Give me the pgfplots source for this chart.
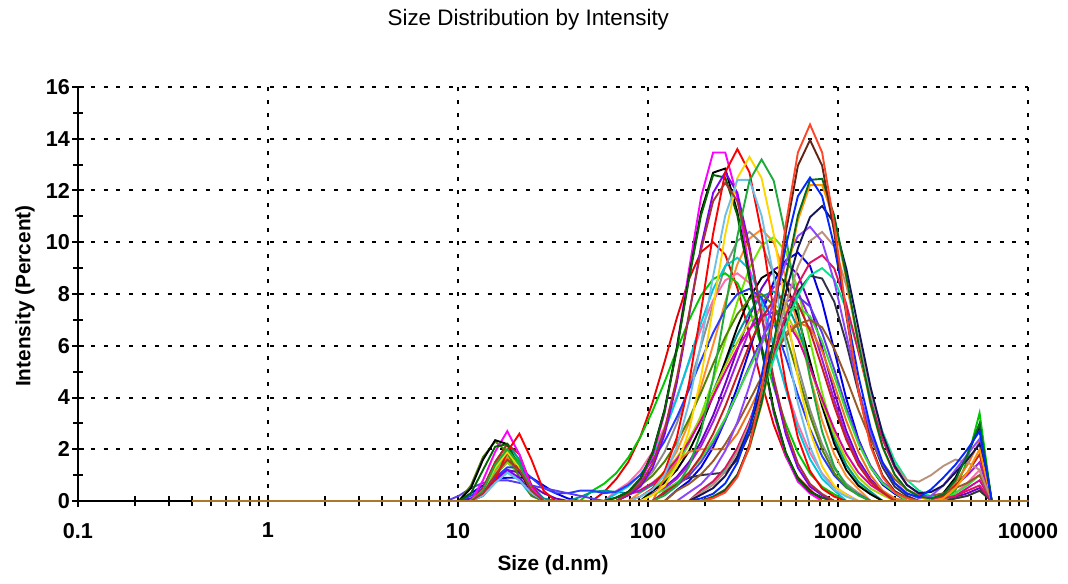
\documentclass[border=0pt]{standalone}
\usepackage{pgfplots}
\pgfplotsset{compat=1.18}
\usepackage{fontspec}
\setmainfont{Liberation Sans}

% line colours of the individual measurement records
\definecolor{cMag}{RGB}{255,0,255}
\definecolor{cBlk}{RGB}{0,0,0}
\definecolor{cDkG}{RGB}{0,100,0}
\definecolor{cPur}{RGB}{128,0,255}
\definecolor{cRed}{RGB}{255,0,0}
\definecolor{cYel}{RGB}{255,215,0}
\definecolor{cLBl}{RGB}{110,190,230}
\definecolor{cGrn}{RGB}{30,170,60}
\definecolor{cBrn}{RGB}{170,50,50}
\definecolor{cROr}{RGB}{255,70,40}
\definecolor{cDBr}{RGB}{100,35,20}
\definecolor{cBlu}{RGB}{0,40,255}
\definecolor{cDGb}{RGB}{0,110,30}
\definecolor{cOra}{RGB}{255,150,0}
\definecolor{cNav}{RGB}{20,20,90}
\definecolor{cPub}{RGB}{140,70,255}
\definecolor{cTan}{RGB}{185,145,125}
\definecolor{cCri}{RGB}{220,20,100}
\definecolor{cSpG}{RGB}{0,230,140}
\definecolor{cReb}{RGB}{230,0,0}
\definecolor{cOrb}{RGB}{255,140,40}
\definecolor{cGra}{RGB}{140,140,140}
\definecolor{cLim}{RGB}{110,230,0}
\definecolor{cBlb}{RGB}{0,0,230}
\definecolor{cPuc}{RGB}{110,0,200}
\definecolor{cGrb}{RGB}{0,200,0}
\definecolor{cPnk}{RGB}{255,110,170}
\definecolor{cTea}{RGB}{0,150,150}
\definecolor{cVio}{RGB}{160,30,220}
\definecolor{cCya}{RGB}{0,200,220}
\definecolor{cYG}{RGB}{170,210,0}
\definecolor{cMP}{RGB}{220,0,160}
\definecolor{cBlc}{RGB}{40,60,255}
\definecolor{cOrc}{RGB}{235,115,30}
\definecolor{cSla}{RGB}{50,50,70}
\definecolor{cBV}{RGB}{90,60,240}
\definecolor{cGrc}{RGB}{60,220,60}
\definecolor{cRec}{RGB}{200,30,30}
\definecolor{cOli}{RGB}{80,130,0}
\definecolor{cBrb}{RGB}{150,90,40}
\definecolor{cBase}{RGB}{170,120,40}

\begin{document}
\begin{tikzpicture}
\begin{axis}[
  name=ax,
  width=475pt, height=207pt, scale only axis,
  xmode=log,
  xmin=0.1, xmax=10000, ymin=0, ymax=16,
  axis lines*=left,
  axis line style={-, line width=1.2pt, black},
  xtick={0.1,1,10,100,1000,10000},
  xticklabels={0.1,1,10,100,1000,10000},
  minor xtick={0.2,0.3,0.4,0.5,0.6,0.7,0.8,0.9,2,3,4,5,6,7,8,9,20,30,40,50,60,70,80,90,200,300,400,500,600,700,800,900,2000,3000,4000,5000,6000,7000,8000,9000},
  ytick={0,2,...,16},
  minor ytick={1,3,...,15},
  tick align=center,
  major tick length=6pt, minor tick length=5pt,
  every tick/.style={black, line width=1pt},
  grid=major,
  major grid style={black, line width=1pt, dash pattern=on 2pt off 4.4pt},
  ticklabel style={font=\fontsize{10.8}{12}\selectfont\bfseries},
  xticklabel style={yshift=-4.5pt},
  yticklabel style={xshift=2.5pt},
  /pgf/number format/assume math mode=true,
  title={Size Distribution by Intensity},
  title style={font=\fontsize{11.2}{13}\selectfont, at={(axis description cs:0.474,1.1328)}, anchor=center},
  xlabel={Size (d.nm)},
  xlabel style={font=\fontsize{10.4}{12}\selectfont\bfseries, at={(axis description cs:0.5,-0.1546)}, anchor=center},
  ylabel={Intensity (Percent)},
  ylabel style={font=\fontsize{10.4}{12}\selectfont\bfseries, at={(axis description cs:-0.0558,0.495)}, anchor=center},
  clip=false,
  every axis plot/.append style={line width=0.95pt, no markers},
]
% ---- broad, lower records ----
\addplot[cReb] coordinates {(0.4,0)(11.70,0)(13.54,0.3)(15.69,1.0)(18.17,1.5)(21.04,1.1)(24.36,0.3)(28.21,0)(50.75,0)(58.77,0.35)(68.06,0.85)(78.82,1.51)(91.28,2.49)(105.7,3.81)(122.4,5.39)(141.8,7.07)(164.2,8.57)(190.1,9.62)(220.2,10.0)(255.0,9.52)(295.3,8.23)(342.0,6.44)(396.1,4.58)(458.7,2.95)(531.2,1.72)(615.1,0.91)(712.4,0.44)(825.0,0)(10000,0)};
\addplot[cOrb] coordinates {(0.4,0)(11.70,0)(13.54,0.3)(15.69,1.1)(18.17,1.7)(21.04,1.2)(24.36,0.4)(28.21,0)(78.82,0)(91.28,0.33)(105.7,0.64)(122.4,1.14)(141.8,1.92)(164.2,3.02)(190.1,4.42)(220.2,6.04)(255.0,7.69)(295.3,9.15)(342.0,10.14)(396.1,10.5)(458.7,10.0)(531.2,8.64)(615.1,6.76)(712.4,4.81)(825.0,3.10)(955.4,1.81)(1106,0.96)(1281,0.46)(1484,0)(10000,0)};
\addplot[cGra] coordinates {(0.4,0)(68.06,0)(78.82,0.32)(91.28,0.63)(105.7,1.13)(122.4,1.90)(141.8,3.00)(164.2,4.38)(190.1,5.98)(220.2,7.61)(255.0,9.06)(295.3,10.05)(342.0,10.4)(396.1,9.96)(458.7,8.75)(531.2,7.05)(615.1,5.21)(712.4,3.53)(825.0,2.19)(955.4,1.25)(1106,0.66)(1281,0.31)(1484,0)(10000,0)};
\addplot[cLim] coordinates {(0.4,0)(11.70,0)(13.54,0.3)(15.69,1.0)(18.17,1.5)(21.04,1.0)(24.36,0.3)(28.21,0)(91.28,0)(105.7,0.45)(122.4,0.82)(141.8,1.38)(164.2,2.20)(190.1,3.32)(220.2,4.67)(255.0,6.19)(295.3,7.70)(342.0,9.0)(396.1,9.88)(458.7,10.2)(531.2,9.65)(615.1,8.17)(712.4,6.19)(825.0,4.19)(955.4,2.54)(1106,1.38)(1281,0.67)(1484,0.30)(1718,0)(10000,0)};
\addplot[cBlb] coordinates {(0.4,0)(10.10,0)(11.70,0.3)(13.54,0.6)(15.69,0.85)(18.17,0.9)(21.04,0.9)(24.36,0.9)(28.21,0.6)(32.67,0.3)(37.84,0.1)(43.82,0)(122.4,0)(141.8,0.42)(164.2,0.77)(190.1,1.30)(220.2,2.07)(255.0,3.12)(295.3,4.40)(342.0,5.83)(396.1,7.25)(458.7,8.47)(531.2,9.30)(615.1,9.6)(712.4,9.08)(825.0,7.69)(955.4,5.83)(1106,3.95)(1281,2.39)(1484,1.30)(1718,0.63)(1990,0.28)(2305,0)(10000,0)};
\addplot[cPuc] coordinates {(0.4,0)(10.10,0)(11.70,0.1)(13.54,0.4)(15.69,0.9)(18.17,1.2)(21.04,1.1)(24.36,0.6)(28.21,0.3)(32.67,0.1)(37.84,0)(91.28,0)(105.7,0.29)(122.4,0.54)(141.8,0.93)(164.2,1.50)(190.1,2.29)(220.2,3.31)(255.0,4.53)(295.3,5.84)(342.0,7.13)(396.1,8.22)(458.7,8.94)(531.2,9.2)(615.1,8.76)(712.4,7.57)(825.0,5.92)(955.4,4.21)(1106,2.71)(1281,1.58)(1484,0.84)(1718,0.40)(1990,0)(3580,0)(4145,0.15)(4801,0.3)(5560,0.5)(6439,0)(10000,0)};
\addplot[cGrb] coordinates {(0.4,0)(11.70,0)(13.54,0.4)(15.69,1.4)(18.17,2.0)(21.04,1.5)(24.36,0.5)(28.21,0)(43.82,0)(50.75,0.39)(58.77,0.67)(68.06,1.08)(78.82,1.68)(91.28,2.48)(105.7,3.48)(122.4,4.61)(141.8,5.83)(164.2,6.98)(190.1,7.94)(220.2,8.58)(255.0,8.8)(295.3,8.43)(342.0,7.40)(396.1,5.97)(458.7,4.41)(531.2,2.98)(615.1,1.86)(712.4,1.06)(825.0,0.55)(955.4,0.26)(1106,0)(3580,0)(4145,0.4)(4801,1.6)(5560,3.4)(6439,0)(10000,0)};
\addplot[cPnk] coordinates {(0.4,0)(58.77,0)(68.06,0.39)(78.82,0.70)(91.28,1.19)(105.7,1.90)(122.4,2.86)(141.8,4.03)(164.2,5.34)(190.1,6.64)(220.2,7.76)(255.0,8.53)(295.3,8.8)(342.0,8.43)(396.1,7.40)(458.7,5.97)(531.2,4.41)(615.1,2.98)(712.4,1.86)(825.0,1.06)(955.4,0.55)(1106,0.26)(1281,0)(3580,0)(4145,0.3)(4801,0.7)(5560,1.2)(6439,0)(10000,0)};
\addplot[cTea] coordinates {(0.4,0)(11.70,0)(13.54,0.5)(15.69,1.5)(18.17,2.2)(21.04,1.6)(24.36,0.6)(28.21,0.1)(32.67,0)(37.84,0)(43.82,0.15)(50.75,0.35)(58.77,0.4)(68.06,0.35)(78.82,0.3)(91.28,0.36)(105.7,0.62)(122.4,1.00)(141.8,1.55)(164.2,2.28)(190.1,3.20)(220.2,4.24)(255.0,5.36)(295.3,6.42)(342.0,7.31)(396.1,7.90)(458.7,8.1)(531.2,7.71)(615.1,6.67)(712.4,5.22)(825.0,3.71)(955.4,2.39)(1106,1.39)(1281,0.74)(1484,0.36)(1718,0)(10000,0)};
\addplot[cVio] coordinates {(0.4,0)(91.28,0)(105.7,0.27)(122.4,0.50)(141.8,0.86)(164.2,1.39)(190.1,2.12)(220.2,3.06)(255.0,4.18)(295.3,5.40)(342.0,6.59)(396.1,7.59)(458.7,8.26)(531.2,8.5)(615.1,8.09)(712.4,7.0)(825.0,5.47)(955.4,3.89)(1106,2.51)(1281,1.46)(1484,0.77)(1718,0.37)(1990,0)(3091,0)(3580,0.2)(4145,0.6)(4801,1.0)(5560,1.5)(6439,0)(10000,0)};
\addplot[cBlk] coordinates {(0.4,0)(91.28,0)(105.7,0.39)(122.4,0.71)(141.8,1.20)(164.2,1.92)(190.1,2.89)(220.2,4.08)(255.0,5.40)(295.3,6.72)(342.0,7.85)(396.1,8.62)(458.7,8.9)(531.2,8.42)(615.1,7.13)(712.4,5.40)(825.0,3.66)(955.4,2.22)(1106,1.20)(1281,0.59)(1484,0.26)(1718,0)(3091,0)(3580,0.3)(4145,0.9)(4801,1.8)(5560,2.9)(6439,0)(10000,0)};
\addplot[cYG] coordinates {(0.4,0)(11.70,0)(13.54,0.4)(15.69,1.3)(18.17,1.9)(21.04,1.3)(24.36,0.4)(28.21,0)(68.06,0)(78.82,0.25)(91.28,0.43)(105.7,0.71)(122.4,1.12)(141.8,1.67)(164.2,2.39)(190.1,3.25)(220.2,4.21)(255.0,5.21)(295.3,6.14)(342.0,6.92)(396.1,7.43)(458.7,7.6)(531.2,7.28)(615.1,6.39)(712.4,5.15)(825.0,3.81)(955.4,2.58)(1106,1.60)(1281,0.91)(1484,0.48)(1718,0.23)(1990,0)(3580,0)(4145,0.1)(4801,0.2)(5560,0.4)(6439,0)(10000,0)};
\addplot[cCya] coordinates {(0.4,0)(11.70,0)(13.54,0.2)(15.69,0.7)(18.17,1.1)(21.04,0.8)(24.36,0.2)(28.21,0)(58.77,0)(68.06,0.29)(78.82,0.57)(91.28,1.02)(105.7,1.72)(122.4,2.71)(141.8,3.96)(164.2,5.41)(190.1,6.88)(220.2,8.19)(255.0,9.08)(295.3,9.4)(342.0,8.95)(396.1,7.74)(458.7,6.05)(531.2,4.31)(615.1,2.77)(712.4,1.62)(825.0,0.86)(955.4,0.41)(1106,0)(10000,0)};
\addplot[cMP] coordinates {(0.4,0)(68.06,0)(78.82,0.24)(91.28,0.42)(105.7,0.69)(122.4,1.07)(141.8,1.61)(164.2,2.29)(190.1,3.12)(220.2,4.04)(255.0,5.0)(295.3,5.90)(342.0,6.64)(396.1,7.13)(458.7,7.3)(531.2,7.02)(615.1,6.26)(712.4,5.16)(825.0,3.93)(955.4,2.78)(1106,1.82)(1281,1.10)(1484,0.62)(1718,0.32)(1990,0)(3580,0)(4145,0.2)(4801,0.5)(5560,0.8)(6439,0)(10000,0)};
\addplot[cBlc] coordinates {(0.4,0)(10.10,0)(11.70,0.2)(13.54,0.5)(15.69,0.9)(18.17,1.3)(21.04,1.3)(24.36,0.9)(28.21,0.5)(32.67,0.3)(37.84,0.3)(43.82,0.4)(50.75,0.4)(58.77,0.3)(68.06,0.36)(78.82,0.62)(91.28,1.01)(105.7,1.57)(122.4,2.31)(141.8,3.24)(164.2,4.30)(190.1,5.43)(220.2,6.50)(255.0,7.40)(295.3,8.0)(342.0,8.2)(396.1,7.86)(458.7,6.90)(531.2,5.56)(615.1,4.11)(712.4,2.78)(825.0,1.73)(955.4,0.98)(1106,0.52)(1281,0.25)(1484,0)(10000,0)};
\addplot[cOrc] coordinates {(0.4,0)(105.7,0)(122.4,0.9)(141.8,1.5)(164.2,1.9)(190.1,2.0)(220.2,2.0)(255.0,2.0)(295.3,2.6)(342.0,3.5)(396.1,4.5)(458.7,5.6)(531.2,6.5)(615.1,6.9)(712.4,6.7)(825.0,5.8)(955.4,4.5)(1106,3.1)(1281,1.9)(1484,1.0)(1718,0.4)(1990,0.1)(2305,0)(3091,0)(3580,0.2)(4145,0.7)(4801,1.4)(5560,2.3)(6439,0)(10000,0)};
\addplot[cSla] coordinates {(0.4,0)(105.7,0)(122.4,0.3)(141.8,0.7)(164.2,0.9)(190.1,1.0)(220.2,1.05)(255.0,1.1)(295.3,1.6)(342.0,2.6)(396.1,4.0)(458.7,5.6)(531.2,7.0)(615.1,8.1)(712.4,8.7)(825.0,8.6)(955.4,7.7)(1106,6.1)(1281,4.2)(1484,2.5)(1718,1.3)(1990,0.55)(2305,0.2)(2669,0)(3580,0)(4145,0.1)(4801,0.2)(5560,0.4)(6439,0)(10000,0)};
\addplot[cBV] coordinates {(0.4,0)(8.721,0)(10.10,0.2)(11.70,0.5)(13.54,0.7)(15.69,0.8)(18.17,0.8)(21.04,0.7)(24.36,0.6)(28.21,0.5)(32.67,0.4)(37.84,0.3)(43.82,0.2)(50.75,0.1)(58.77,0)(105.7,0)(122.4,0.35)(141.8,0.60)(164.2,0.97)(190.1,1.51)(220.2,2.23)(255.0,3.12)(295.3,4.14)(342.0,5.23)(396.1,6.26)(458.7,7.13)(531.2,7.70)(615.1,7.9)(712.4,7.52)(825.0,6.50)(955.4,5.09)(1106,3.62)(1281,2.33)(1484,1.36)(1718,0.72)(1990,0.35)(2305,0)(10000,0)};
\addplot[cGrc] coordinates {(0.4,0)(11.70,0)(13.54,0.4)(15.69,1.2)(18.17,1.8)(21.04,1.3)(24.36,0.4)(28.21,0)(91.28,0)(105.7,0.25)(122.4,0.43)(141.8,0.71)(164.2,1.10)(190.1,1.65)(220.2,2.36)(255.0,3.20)(295.3,4.16)(342.0,5.14)(396.1,6.06)(458.7,6.83)(531.2,7.33)(615.1,7.5)(712.4,7.14)(825.0,6.17)(955.4,4.83)(1106,3.44)(1281,2.21)(1484,1.29)(1718,0.68)(1990,0.33)(2305,0)(3580,0)(4145,0.3)(4801,0.6)(5560,1.0)(6439,0)(10000,0)};
\addplot[cRec] coordinates {(0.4,0)(11.70,0)(13.54,0.5)(15.69,1.5)(18.17,2.2)(21.04,1.8)(24.36,0.6)(28.21,0)(105.7,0)(122.4,0.35)(141.8,0.64)(164.2,1.08)(190.1,1.73)(220.2,2.60)(255.0,3.66)(295.3,4.86)(342.0,6.04)(396.1,7.06)(458.7,7.75)(531.2,8.0)(615.1,7.62)(712.4,6.58)(825.0,5.15)(955.4,3.66)(1106,2.36)(1281,1.38)(1484,0.73)(1718,0.35)(1990,0)(3091,0)(3580,0.2)(4145,0.6)(4801,1.1)(5560,1.8)(6439,0)(10000,0)};
\addplot[cOli] coordinates {(0.4,0)(10.10,0)(11.70,0.6)(13.54,1.7)(15.69,2.3)(18.17,1.9)(21.04,0.9)(24.36,0.2)(28.21,0)(68.06,0)(78.82,0.35)(91.28,0.61)(105.7,0.98)(122.4,1.53)(141.8,2.26)(164.2,3.16)(190.1,4.19)(220.2,5.30)(255.0,6.34)(295.3,7.22)(342.0,7.80)(396.1,8.0)(458.7,7.57)(531.2,6.41)(615.1,4.86)(712.4,3.29)(825.0,1.99)(955.4,1.08)(1106,0.53)(1281,0.23)(1484,0)(10000,0)};
\addplot[cBrb] coordinates {(0.4,0)(122.4,0)(141.8,0.40)(164.2,0.66)(190.1,1.03)(220.2,1.54)(255.0,2.20)(295.3,2.99)(342.0,3.88)(396.1,4.80)(458.7,5.66)(531.2,6.37)(615.1,6.84)(712.4,7.0)(825.0,6.71)(955.4,5.89)(1106,4.75)(1281,3.51)(1484,2.37)(1718,1.48)(1990,0.84)(2305,0.44)(2669,0.21)(3091,0.2)(3580,0.3)(4145,0.5)(4801,0.7)(5560,1.0)(6439,0)(10000,0)};
% ---- narrow records around 200-400 nm ----
\addplot[cMag] coordinates {(0.4,0)(11.70,0)(13.54,0.8)(15.69,1.9)(18.17,2.7)(21.04,1.8)(24.36,0.5)(28.21,0)(68.06,0)(78.82,0.29)(91.28,0.75)(105.7,1.73)(122.4,3.41)(141.8,5.92)(164.2,8.92)(190.1,11.74)(220.2,13.47)(255.0,13.47)(295.3,11.74)(342.0,8.92)(396.1,5.92)(458.7,3.41)(531.2,1.73)(615.1,0.75)(712.4,0.29)(825.0,0)(10000,0)};
\addplot[cBlk] coordinates {(0.4,0)(10.10,0)(11.70,0.5)(13.54,1.6)(15.69,2.35)(18.17,2.2)(21.04,1.2)(24.36,0.3)(28.21,0)(58.77,0)(68.06,0.13)(78.82,0.36)(91.28,0.87)(105.7,1.87)(122.4,3.55)(141.8,5.91)(164.2,8.66)(190.1,11.17)(220.2,12.69)(255.0,12.85)(295.3,11.17)(342.0,8.66)(396.1,5.91)(458.7,3.55)(531.2,1.87)(615.1,0.87)(712.4,0.36)(825.0,0.13)(955.4,0)(10000,0)};
\addplot[cDkG] coordinates {(0.4,0)(10.10,0)(11.70,0.3)(13.54,1.2)(15.69,2.1)(18.17,2.2)(21.04,1.3)(24.36,0.4)(28.21,0)(58.77,0)(68.06,0.13)(78.82,0.35)(91.28,0.86)(105.7,1.85)(122.4,3.51)(141.8,5.84)(164.2,8.56)(190.1,11.04)(220.2,12.6)(255.0,12.5)(295.3,11.04)(342.0,8.56)(396.1,5.84)(458.7,3.51)(531.2,1.85)(615.1,0.86)(712.4,0.35)(825.0,0.13)(955.4,0)(10000,0)};
\addplot[cPur] coordinates {(0.4,0)(11.70,0)(13.54,0.3)(15.69,0.8)(18.17,1.2)(21.04,0.9)(24.36,0.3)(28.21,0)(68.06,0)(78.82,0.22)(91.28,0.56)(105.7,1.28)(122.4,2.58)(141.8,4.57)(164.2,7.15)(190.1,9.84)(220.2,11.91)(255.0,12.7)(295.3,11.91)(342.0,9.84)(396.1,7.15)(458.7,4.57)(531.2,2.58)(615.1,1.28)(712.4,0.56)(825.0,0.22)(955.4,0)(10000,0)};
\addplot[cRed] coordinates {(0.4,0)(11.70,0)(13.54,0.2)(15.69,0.8)(18.17,1.9)(21.04,2.6)(24.36,1.6)(28.21,0.4)(32.67,0)(78.82,0)(91.28,0.17)(105.7,0.48)(122.4,1.16)(141.8,2.45)(164.2,4.54)(190.1,7.33)(220.2,10.34)(255.0,12.70)(295.3,13.6)(342.0,12.70)(396.1,10.34)(458.7,7.33)(531.2,4.54)(615.1,2.45)(712.4,1.16)(825.0,0.48)(955.4,0.17)(1106,0)(10000,0)};
\addplot[cYel] coordinates {(0.4,0)(11.70,0)(13.54,0.4)(15.69,1.3)(18.17,1.9)(21.04,1.3)(24.36,0.4)(28.21,0)(91.28,0)(105.7,0.23)(122.4,0.59)(141.8,1.34)(164.2,2.70)(190.1,4.79)(220.2,7.49)(255.0,10.31)(295.3,12.48)(342.0,13.3)(396.1,12.48)(458.7,10.31)(531.2,7.49)(615.1,4.79)(712.4,2.70)(825.0,1.34)(955.4,0.59)(1106,0.23)(1281,0)(10000,0)};
\addplot[cLBl] coordinates {(0.4,0)(11.70,0)(13.54,0.2)(15.69,0.7)(18.17,1.1)(21.04,0.8)(24.36,0.3)(28.21,0)(78.82,0)(91.28,0.17)(105.7,0.44)(122.4,1.02)(141.8,2.09)(164.2,3.78)(190.1,6.09)(220.2,8.69)(255.0,11.03)(295.3,12.41)(342.0,12.41)(396.1,11.03)(458.7,8.69)(531.2,6.09)(615.1,3.78)(712.4,2.09)(825.0,1.02)(955.4,0.44)(1106,0.17)(1281,0)(10000,0)};
\addplot[cGrn] coordinates {(0.4,0)(11.70,0)(13.54,0.4)(15.69,1.4)(18.17,2.0)(21.04,1.4)(24.36,0.4)(28.21,0)(105.7,0)(122.4,0.22)(141.8,0.58)(164.2,1.33)(190.1,2.68)(220.2,4.75)(255.0,7.43)(295.3,10.23)(342.0,12.38)(396.1,13.2)(458.7,12.38)(531.2,10.23)(615.1,7.43)(712.4,4.75)(825.0,2.68)(955.4,1.33)(1106,0.58)(1281,0.22)(1484,0)(10000,0)};
\addplot[cBrn] coordinates {(0.4,0)(11.70,0)(13.54,0.3)(15.69,1.0)(18.17,1.6)(21.04,1.2)(24.36,0.4)(28.21,0)(68.06,0)(78.82,0.27)(91.28,0.66)(105.7,1.45)(122.4,2.78)(141.8,4.75)(164.2,7.21)(190.1,9.69)(220.2,11.59)(255.0,12.3)(295.3,11.59)(342.0,9.69)(396.1,7.21)(458.7,4.75)(531.2,2.78)(615.1,1.45)(712.4,0.66)(825.0,0.27)(955.4,0)(10000,0)};
% ---- records peaking near 700-800 nm ----
\addplot[cSpG] coordinates {(0.4,0)(164.2,0)(190.1,0.40)(220.2,0.72)(255.0,1.22)(295.3,1.94)(342.0,2.93)(396.1,4.12)(458.7,5.46)(531.2,6.80)(615.1,7.94)(712.4,8.72)(825.0,9.0)(955.4,8.57)(1106,7.41)(1281,5.80)(1484,4.12)(1718,2.66)(1990,1.55)(2305,0.82)(2669,0.40)(3091,0.17)(3580,0)(10000,0)};
\addplot[cCri] coordinates {(0.4,0)(164.2,0)(190.1,0.42)(220.2,0.76)(255.0,1.28)(295.3,2.05)(342.0,3.09)(396.1,4.35)(458.7,5.77)(531.2,7.17)(615.1,8.38)(712.4,9.21)(825.0,9.5)(955.4,8.99)(1106,7.61)(1281,5.77)(1484,3.90)(1718,2.37)(1990,1.28)(2305,0.63)(2669,0.28)(3091,0.1)(3580,0.1)(4145,0.2)(4801,0.4)(5560,0.6)(6439,0)(10000,0)};
\addplot[cTan] coordinates {(0.4,0)(164.2,0)(190.1,0.32)(220.2,0.63)(255.0,1.13)(295.3,1.90)(342.0,3.00)(396.1,4.38)(458.7,5.98)(531.2,7.61)(615.1,9.06)(712.4,10.05)(825.0,10.4)(955.4,9.84)(1106,8.33)(1281,6.31)(1484,4.27)(1718,2.59)(1990,1.40)(2305,0.8)(2669,0.75)(3091,1.0)(3580,1.35)(4145,1.6)(4801,1.5)(5560,1.2)(6439,0)(10000,0)};
\addplot[cPub] coordinates {(0.4,0)(141.8,0)(164.2,0.33)(190.1,0.65)(220.2,1.16)(255.0,1.94)(295.3,3.05)(342.0,4.46)(396.1,6.10)(458.7,7.76)(531.2,9.23)(615.1,10.24)(712.4,10.6)(825.0,10.03)(955.4,8.49)(1106,6.43)(1281,4.36)(1484,2.64)(1718,1.43)(1990,0.70)(2305,0.31)(2669,0.1)(3091,0.2)(3580,0.6)(4145,1.2)(4801,1.8)(5560,2.4)(6439,0)(10000,0)};
\addplot[cNav] coordinates {(0.4,0)(164.2,0)(190.1,0.24)(220.2,0.50)(255.0,0.97)(295.3,1.72)(342.0,2.84)(396.1,4.34)(458.7,6.14)(531.2,8.06)(615.1,9.77)(712.4,10.97)(825.0,11.4)(955.4,10.74)(1106,8.98)(1281,6.68)(1484,4.40)(1718,2.58)(1990,1.35)(2305,0.62)(2669,0.3)(3091,0.35)(3580,0.6)(4145,1.1)(4801,1.6)(5560,2.2)(6439,0)(10000,0)};
\addplot[cOra] coordinates {(0.4,0)(190.1,0)(220.2,0.17)(255.0,0.43)(295.3,1.00)(342.0,2.06)(396.1,3.72)(458.7,5.99)(531.2,8.56)(615.1,10.85)(712.4,12.21)(825.0,12.21)(955.4,10.85)(1106,8.56)(1281,5.99)(1484,3.72)(1718,2.06)(1990,1.00)(2305,0.43)(2669,0.17)(3091,0)(3580,0.1)(4145,0.5)(4801,1.1)(5560,2.0)(6439,0)(10000,0)};
\addplot[cDGb] coordinates {(0.4,0)(190.1,0)(220.2,0.17)(255.0,0.44)(295.3,1.02)(342.0,2.09)(396.1,3.78)(458.7,6.09)(531.2,8.69)(615.1,11.03)(712.4,12.41)(825.0,12.45)(955.4,11.03)(1106,8.69)(1281,6.09)(1484,3.78)(1718,2.09)(1990,1.02)(2305,0.44)(2669,0.17)(3091,0.1)(3580,0.25)(4145,0.8)(4801,1.8)(5560,3.0)(6439,0)(10000,0)};
\addplot[cBlu] coordinates {(0.4,0)(164.2,0)(190.1,0.10)(220.2,0.28)(255.0,0.68)(295.3,1.48)(342.0,2.83)(396.1,4.83)(458.7,7.33)(531.2,9.85)(615.1,11.78)(712.4,12.5)(825.0,11.78)(955.4,9.85)(1106,7.33)(1281,4.83)(1484,2.83)(1718,1.48)(1990,0.68)(2305,0.28)(2669,0.15)(3091,0.45)(3580,0.9)(4145,1.4)(4801,2.0)(5560,2.7)(6439,0)(10000,0)};
\addplot[cDBr] coordinates {(0.4,0)(190.1,0)(220.2,0.12)(255.0,0.38)(295.3,0.98)(342.0,2.19)(396.1,4.27)(458.7,7.17)(531.2,10.38)(615.1,12.96)(712.4,13.95)(825.0,12.96)(955.4,10.38)(1106,7.17)(1281,4.27)(1484,2.19)(1718,0.98)(1990,0.38)(2305,0.12)(2669,0)(10000,0)};
\addplot[cROr] coordinates {(0.4,0)(190.1,0)(220.2,0.11)(255.0,0.33)(295.3,0.92)(342.0,2.12)(396.1,4.25)(458.7,7.28)(531.2,10.69)(615.1,13.47)(712.4,14.55)(825.0,13.47)(955.4,10.69)(1106,7.28)(1281,4.25)(1484,2.12)(1718,0.92)(1990,0.33)(2305,0.11)(2669,0)(10000,0)};
% ---- common zero baseline ----
\addplot[cBase, line width=1pt] coordinates {(0.4,0)(10000,0)};
\end{axis}
\pgfresetboundingbox
\path[use as bounding box] ([xshift=-39pt,yshift=-41pt]ax.south west) rectangle ([xshift=20pt,yshift=43.5pt]ax.north east);
\end{tikzpicture}
\end{document}
